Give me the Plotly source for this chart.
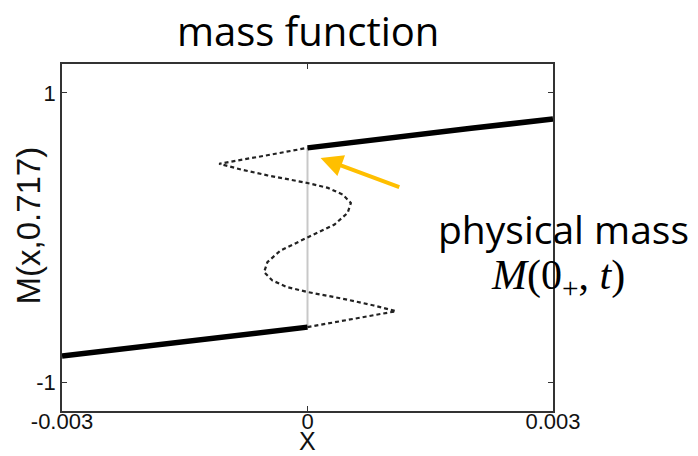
import plotly.graph_objects as go

# Branches of the mass function M(x, t) at t = 0.717
x_left = [-0.003, -0.002, -0.001, 0.0]
m_left = [-0.82, -0.755, -0.69, -0.62]
x_right = [0.0, 0.001, 0.002, 0.003]
m_right = [0.62, 0.69, 0.755, 0.82]

# Multivalued (unphysical) S-shaped part connecting the two branches
x_s = [0.0, 0.00053, 0.00108, 0.00081, 0.00049, 0.0, -0.00025, -0.00043, -0.00053,
       -0.00049, -0.00033, 0.0, 0.00033, 0.00049, 0.00053, 0.00043, 0.00025, 0.0,
       -0.00049, -0.00081, -0.00108, -0.00053, 0.0]
m_s = [-0.62, -0.565, -0.51, -0.47, -0.43, -0.377, -0.343, -0.297, -0.239,
       -0.17, -0.09, 0.0, 0.09, 0.17, 0.239, 0.297, 0.343, 0.377,
       0.43, 0.47, 0.51, 0.565, 0.62]

# Jump at x = 0
x_jump = [0.0, 0.0]
m_jump = [-0.62, 0.62]

x_ticks = [-0.003, 0, 0.003]
x_tick_text = ["-0.003", "0", "0.003"]
y_ticks = [-1, 1]
y_tick_text = ["-1", "1"]

fig = go.Figure()
fig.add_trace(go.Scatter(x=x_jump, y=m_jump, mode="lines",
                         line=dict(color="#c8c8c8", width=2), hoverinfo="skip"))
fig.add_trace(go.Scatter(x=x_s, y=m_s, mode="lines",
                         line=dict(color="#222222", width=2.2, dash="4px,3px")))
fig.add_trace(go.Scatter(x=x_left, y=m_left, mode="lines",
                         line=dict(color="black", width=5.5)))
fig.add_trace(go.Scatter(x=x_right, y=m_right, mode="lines",
                         line=dict(color="black", width=5.5)))

axis_common = dict(
    showgrid=False, zeroline=False, showline=True, mirror="ticks",
    linecolor="#333333", linewidth=1.5, ticks="inside", ticklen=5,
    tickcolor="#333333", tickwidth=1,
    tickfont=dict(family="Liberation Sans, Arial", size=22, color="#111111"),
)

fig.update_layout(
    width=698, height=456,
    margin=dict(l=62, r=145, t=64, b=45),
    paper_bgcolor="white", plot_bgcolor="white",
    showlegend=False,
    xaxis=dict(range=[-0.003, 0.003], tickvals=x_ticks, ticktext=x_tick_text,
               ticklabelstandoff=-10, **axis_common),
    yaxis=dict(range=[-1.2, 1.2], tickvals=y_ticks, ticktext=y_tick_text,
               **axis_common),
    annotations=[
        dict(text="mass function", xref="paper", yref="paper", x=0.5, y=1,
             xanchor="center", yanchor="middle", yshift=34, showarrow=False,
             font=dict(family="Open Sans, Noto Sans", size=40, color="black")),
        dict(text="M(x,0.717)", xref="paper", yref="paper", x=0, y=0.5,
             xanchor="center", yanchor="middle", xshift=-34, yshift=12,
             textangle=-90, showarrow=False,
             font=dict(family="Liberation Sans, Arial", size=33, color="#111111")),
        dict(text="X", xref="paper", yref="paper", x=0.5, y=0,
             xanchor="center", yanchor="middle", yshift=-30, showarrow=False,
             borderpad=0,
             font=dict(family="Liberation Sans, Arial", size=25, color="#111111")),
        dict(text="physical mass", xref="paper", yref="paper", x=1, y=0.5,
             xanchor="center", yanchor="middle", xshift=10, yshift=9,
             showarrow=False,
             font=dict(family="Open Sans, Noto Sans", size=39, color="black")),
        dict(text="<i>M</i>(0<sub>+</sub>, <i>t</i>)", xref="paper", yref="paper",
             x=1, y=0.5, xanchor="center", yanchor="middle", xshift=5, yshift=-40,
             showarrow=False,
             font=dict(family="Liberation Serif, DejaVu Serif", size=42, color="black")),
        dict(text="", x=0.00016, y=0.55, xref="x", yref="y",
             ax=0.00114, ay=0.345, axref="x", ayref="y",
             showarrow=True, arrowhead=2, arrowsize=1.1, arrowwidth=4,
             arrowcolor="#FFBF00"),
    ],
)

fig.write_html("out.html")
